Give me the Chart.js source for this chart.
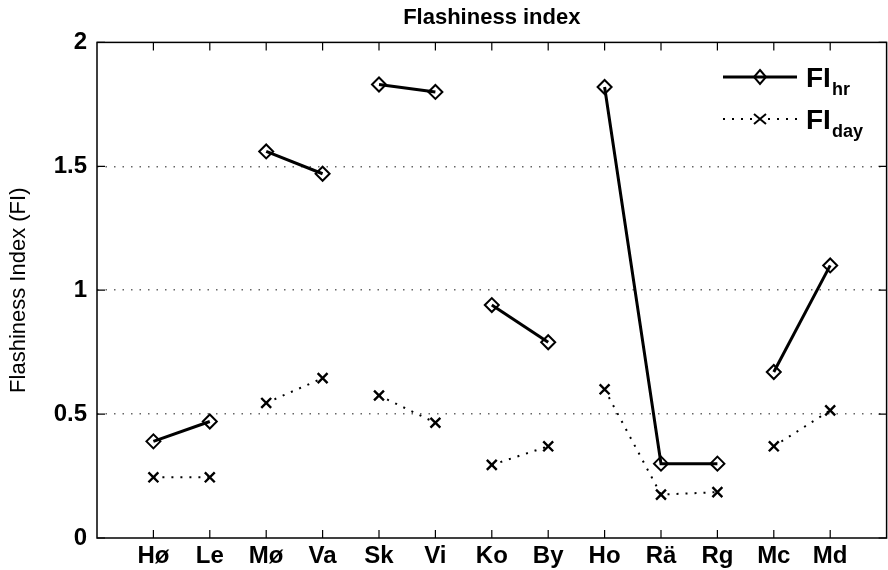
<!DOCTYPE html>
<html>
<head>
<meta charset="utf-8">
<script src="https://cdn.jsdelivr.net/npm/chart.js@4.4.1/dist/chart.umd.min.js"></script>
<style>
  html, body { margin: 0; padding: 0; background: #fff; overflow: hidden; }
  #wrap { width: 888px; height: 570px; overflow: hidden; }
</style>
</head>
<body>
<div id="wrap"><canvas id="fi" width="896" height="570"></canvas></div>
<script>
// station codes along the x axis
var stations = ["Hø","Le","Mø","Va","Sk","Vi","Ko","By","Ho","Rä","Rg","Mc","Md"];
// which stations are joined by a line
var groups = [1,1,2,2,3,3,4,4,5,5,5,6,6];
// flashiness index, hourly and daily data
var fiHr  = [0.39,0.47,1.56,1.47,1.83,1.80,0.94,0.79,1.82,0.30,0.30,0.67,1.10];
var fiDay = [0.245,0.245,0.545,0.645,0.575,0.465,0.295,0.37,0.60,0.175,0.185,0.37,0.515];
var yTicks = [0, 0.5, 1, 1.5, 2];

function toXY(arr) {
  return arr.map(function (v, i) { return { x: i + 1, y: v }; });
}
function segColor(ctx) {
  return groups[ctx.p0DataIndex] === groups[ctx.p1DataIndex] ? '#000' : 'rgba(0,0,0,0)';
}

// box, inward ticks and legend in matlab style
var matlabBits = {
  id: 'matlabBits',
  afterDraw: function (chart) {
    var c = chart.ctx, a = chart.chartArea;
    var xs = chart.scales.x, ys = chart.scales.y;
    c.save();
    c.strokeStyle = '#000';
    c.lineWidth = 1.5;
    c.setLineDash([]);
    c.strokeRect(a.left, a.top, a.right - a.left, a.bottom - a.top);
    c.lineWidth = 1.2;
    c.beginPath();
    for (var i = 1; i <= stations.length; i++) {
      var px = xs.getPixelForValue(i);
      c.moveTo(px, a.bottom); c.lineTo(px, a.bottom - 8);
      c.moveTo(px, a.top); c.lineTo(px, a.top + 8);
    }
    yTicks.forEach(function (t) {
      var py = ys.getPixelForValue(t);
      c.moveTo(a.left, py); c.lineTo(a.left + 8, py);
      c.moveTo(a.right, py); c.lineTo(a.right - 8, py);
    });
    c.stroke();

    // legend
    var lx0 = 723, lx1 = 797, mx = 760;
    var rows = [
      { y: 77, sub: 'hr', dash: [], w: 3, mark: 'diamond' },
      { y: 119, sub: 'day', dash: [2, 7], w: 2, mark: 'cross' }
    ];
    rows.forEach(function (r) {
      c.strokeStyle = '#000';
      c.lineWidth = r.w;
      c.setLineDash(r.dash);
      c.beginPath(); c.moveTo(lx0, r.y); c.lineTo(lx1, r.y); c.stroke();
      c.setLineDash([]);
      c.lineWidth = 2;
      c.beginPath();
      if (r.mark === 'diamond') {
        c.moveTo(mx, r.y - 7); c.lineTo(mx + 6, r.y); c.lineTo(mx, r.y + 7); c.lineTo(mx - 6, r.y); c.closePath();
      } else {
        c.moveTo(mx - 6, r.y - 5); c.lineTo(mx + 6, r.y + 5);
        c.moveTo(mx + 6, r.y - 5); c.lineTo(mx - 6, r.y + 5);
      }
      c.stroke();
      c.fillStyle = '#000';
      c.textBaseline = 'alphabetic';
      c.textAlign = 'left';
      c.font = 'bold 28px "Liberation Sans", Arial, sans-serif';
      c.fillText('FI', 806, r.y + 10);
      var w = c.measureText('FI').width;
      c.font = 'bold 18px "Liberation Sans", Arial, sans-serif';
      c.fillText(r.sub, 806 + w + 1, r.y + 18);
    });
    c.restore();
  }
};

new Chart(document.getElementById('fi'), {
  type: 'line',
  data: {
    datasets: [{
      label: 'FI_hr',
      data: toXY(fiHr),
      borderColor: '#000',
      borderWidth: 3,
      pointStyle: 'rectRot',
      pointRadius: 7,
      pointBorderWidth: 2,
      pointBorderColor: '#000',
      pointBackgroundColor: 'rgba(0,0,0,0)',
      segment: { borderColor: segColor }
    }, {
      label: 'FI_day',
      data: toXY(fiDay),
      borderColor: '#000',
      borderWidth: 2,
      borderDash: [2, 7],
      pointStyle: 'crossRot',
      pointRadius: 7,
      pointBorderWidth: 2.4,
      pointBorderColor: '#000',
      segment: { borderColor: segColor }
    }]
  },
  options: {
    responsive: false,
    animation: false,
    layout: { padding: { right: 1, left: 0, bottom: 0 } },
    plugins: {
      legend: { display: false },
      tooltip: { enabled: false },
      title: {
        display: true,
        fullSize: false,
        text: 'Flashiness index',
        color: '#000',
        font: { family: '"Liberation Sans", Arial, sans-serif', size: 22, weight: 'bold' },
        padding: { top: 5, bottom: 11 }
      }
    },
    scales: {
      x: {
        type: 'linear',
        min: 0, max: 14,
        afterBuildTicks: function (s) { s.ticks = stations.map(function (n, i) { return { value: i + 1 }; }); },
        afterFit: function (s) { s.height = 32; s.paddingLeft = 0; s.paddingRight = 0; },
        grid: { display: false, drawTicks: false },
        border: { display: false },
        ticks: {
          autoSkip: false,
          maxRotation: 0,
          padding: 4,
          color: '#000',
          font: { family: '"Liberation Sans", Arial, sans-serif', size: 24, weight: 'bold' },
          callback: function (v) { return stations[v - 1] || ''; }
        }
      },
      y: {
        min: 0, max: 2,
        afterFit: function (s) { s.width = 97; },
        afterBuildTicks: function (s) { s.ticks = yTicks.map(function (v) { return { value: v }; }); },
        grid: {
          drawTicks: false,
          lineWidth: 1.5,
          color: function (ctx) {
            var v = ctx.tick && ctx.tick.value;
            return (v === 0 || v === 2) ? 'rgba(0,0,0,0)' : '#666';
          }
        },
        border: { display: false, dash: [1.5, 7] },
        title: {
          display: true,
          text: 'Flashiness Index (FI)',
          color: '#000',
          padding: { top: 6, bottom: 0 },
          font: { family: '"Liberation Sans", Arial, sans-serif', size: 22 }
        },
        ticks: {
          padding: 10,
          color: '#000',
          font: { family: '"Liberation Sans", Arial, sans-serif', size: 24, weight: 'bold' },
          callback: function (v) { return String(v); }
        }
      }
    }
  },
  plugins: [matlabBits]
});
</script>
</body>
</html>
